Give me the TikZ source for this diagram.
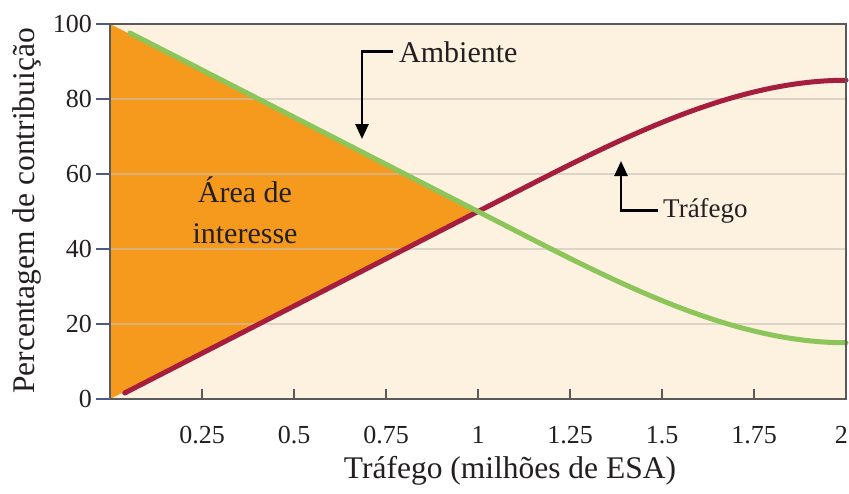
\documentclass[tikz,border=0pt]{standalone}
\usepackage{fontspec}
\setmainfont{Liberation Serif}
\newfontfamily\plotserif{Liberation Serif}
\usetikzlibrary{arrows.meta}
\definecolor{bgcream}{HTML}{FDF1E0}
\definecolor{areaorange}{HTML}{F59A1C}
\definecolor{ambgreen}{HTML}{8CC55A}
\definecolor{trafred}{HTML}{A51E3E}
\definecolor{framegray}{HTML}{5A5A5A}
\definecolor{tickblue}{HTML}{4B5B82}
\definecolor{gridgray}{HTML}{C8C1B8}
\definecolor{txt}{HTML}{231F20}
\tikzset{
  ticklab/.style={text=txt, inner sep=0pt, font={\plotserif\fontsize{26}{30}\selectfont}},
  ytlab/.style={ticklab, anchor=east},
  xtlab/.style={ticklab, anchor=base},
  titlelab/.style={text=txt, inner sep=0pt, font={\plotserif\fontsize{31.5}{36}\selectfont}},
  annot/.style={text=txt, inner sep=0pt, font={\plotserif\fontsize{30}{34}\selectfont}},
  curve/.style={line width=5pt, line cap=round},
  gridline/.style={draw=gridgray, line width=2pt},
  pointer/.style={draw=black, line width=2.6pt, -{Triangle[length=15pt,width=13pt]}},
}
\begin{document}
\begin{tikzpicture}[x=1pt,y=-1pt]
\useasboundingbox (0,0) rectangle (849,493);
\fill[white] (0,0) rectangle (849,493);
% plot background
\fill[bgcream] (110,24) rectangle (846,399);
% area of interest
\fill[areaorange] (110,24) -- (478,211.5) -- (110,399) -- cycle;
% grid lines
\foreach \yy in {99,174,249,324} {
  \draw[gridline, opacity=0.6] (110,\yy) -- (846,\yy);
}
% curves
\coordinate (rs) at (124.7,393);
\coordinate (cross) at (478,211.5);
\coordinate (re) at (846,80.25);
\coordinate (gs) at (129.9,33);
\coordinate (ge) at (846,342.75);
\draw[curve, trafred] (rs) -- (cross) .. controls (600.7,149) and (723.3,80.25) .. (re);
\draw[curve, ambgreen] (gs) -- (cross) .. controls (600.7,274) and (723.3,342.75) .. (ge);
% frame
\draw[framegray, line width=2.6pt] (110,24) rectangle (846,399);
% x ticks
\foreach \xx in {202,294,386,478,570,662,754} {
  \draw[framegray, line width=2.6pt] (\xx,399) -- (\xx,389);
}
% y ticks
\foreach \yy in {24,99,174,249,324,399} {
  \draw[tickblue, line width=2.4pt] (96,\yy) -- (110,\yy);
}
% y tick labels
\node[ytlab] (y100) at (92,24) {100};
\node[ytlab] (y80) at (92,99) {80};
\node[ytlab] (y60) at (92,174) {60};
\node[ytlab] (y40) at (92,249) {40};
\node[ytlab] (y20) at (92,324) {20};
\node[ytlab] (y0) at (92,399) {0};
% x tick labels
\node[xtlab] (x025) at (202,443) {0.25};
\node[xtlab] (x05) at (294,443) {0.5};
\node[xtlab] (x075) at (386,443) {0.75};
\node[xtlab] (x1) at (478,443) {1};
\node[xtlab] (x125) at (570,443) {1.25};
\node[xtlab] (x15) at (662,443) {1.5};
\node[xtlab] (x175) at (754,443) {1.75};
\node[ticklab, anchor=base east] (x2) at (848,443) {2};
% axis titles
\node[titlelab, anchor=base] (xtitle) at (510,478) {Tráfego (milhões de ESA)};
\node[titlelab, rotate=90] (ytitle) at (27,211) {Percentagem de contribuição};
% area text
\node[annot, anchor=base] (area1) at (245,202) {Área de};
\node[annot, anchor=base] (area2) at (245,243) {interesse};
% annotations
\node[annot, anchor=base west] (amb) at (399,62) {Ambiente};
\coordinate (ambtip) at (362,139);
\draw[pointer] ([xshift=-6pt]amb.west) -| (ambtip);
\node[annot, anchor=base west, font={\plotserif\fontsize{27}{31}\selectfont}] (traf) at (663,217) {Tráfego};
\coordinate (traftip) at (621,161);
\draw[pointer] ([xshift=-5pt]traf.west) -| (traftip);
\end{tikzpicture}
\end{document}
